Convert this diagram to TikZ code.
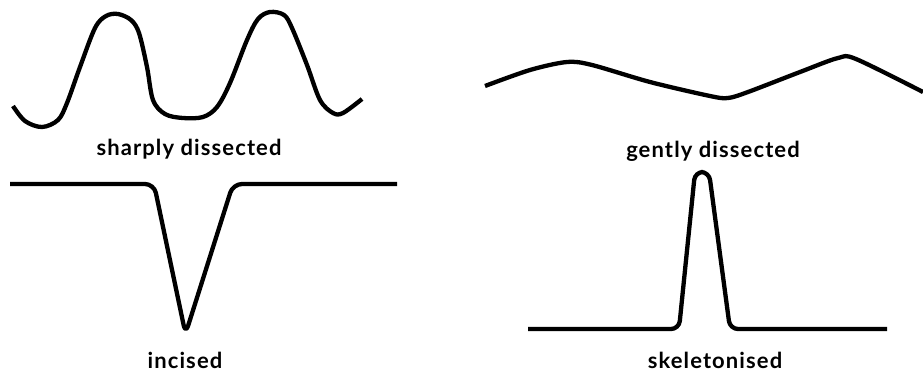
\documentclass[tikz,border=0pt]{standalone}
\usepackage{fontspec}
\setmainfont{Lato}
\newfontfamily\lblfont[LetterSpace=5]{Lato}
\begin{document}
\begin{tikzpicture}[x=1pt,y=-1pt,
  profile/.style={line width=4.3pt, line join=round, line cap=butt, black},
  lbl/.style={anchor=base, inner sep=0pt, font=\lblfont\fontsize{22}{26}\selectfont\bfseries}]
\useasboundingbox (0,0) rectangle (923,373);
% sharply dissected
\draw[profile] plot[smooth, tension=0.55] coordinates {
 (13,106) (25,121) (42,127) (58,120) (67,103) (80,67) (95,28) (106,16) (118,14) (131,20) (139,33)
 (147,67) (153,100) (165,114) (183,118) (203,117) (217,107) (230,83) (247,40) (258,19)
 (270,12) (284,15) (292,28) (307,65) (320,100) (333,113) (343,113) (362,99)};
\node[lbl] (sharp) at (189,155) {sharply dissected};
% gently dissected
\draw[profile] plot[smooth, tension=0.5] coordinates {
 (485,86) (530,70) (567,62) (592,65) (650,82) (710,96) (728,98) (748,92) (800,72) (838,58) (856,59) (923,92)};
\node[lbl] (gently) at (713,157) {gently dissected};
% incised
\draw[profile, rounded corners=9pt] (10,184) -- (154,184) -- (185.5,334) -- (233,184) -- (397,184);
\node[lbl] (incised) at (185,368) {incised};
% skeletonised
\draw[profile, rounded corners=8pt] (528,329) -- (679,329) -- (695,172) -- (709,172) -- (730,329) -- (887,329);
\node[lbl] (skel) at (715,368) {skeletonised};
\end{tikzpicture}
\end{document}
